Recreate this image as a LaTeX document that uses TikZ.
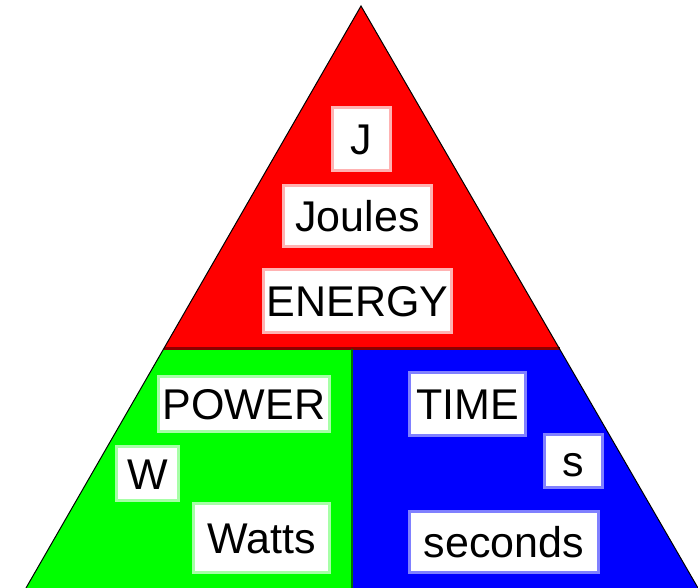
\documentclass[tikz,border=0pt]{standalone}
\usepackage{fontspec}
\setmainfont{Liberation Sans}
\usetikzlibrary{calc}

\begin{document}
\begin{tikzpicture}[
        x=1pt, y=-1pt, % one unit = one pixel of the sketch, y going down
        labelbox/.style={fill=white, line width=3pt, inner sep=0pt,
            font=\fontsize{43}{50}\selectfont, text height=31pt, text depth=0pt}
    ]

        % --- COLOURS ---
        \definecolor{energyred}{RGB}{255, 0, 0}
        \definecolor{powergreen}{RGB}{0, 255, 0}
        \definecolor{timeblue}{RGB}{0, 0, 255}

        \useasboundingbox (0,0) rectangle (698,588);

        % --- CORNERS OF THE TRIANGLE ---
        \coordinate (Apex) at (361,6);
        \coordinate (BaseL) at (26,588);
        \coordinate (BaseR) at (698,588);
        \coordinate (MidL) at ($(Apex)!0.5893!(BaseL)$); % cut at y = 349
        \coordinate (MidR) at ($(Apex)!0.5893!(BaseR)$);
        \coordinate (MidC) at (352,349);
        \coordinate (BaseC) at (352,588);

        % --- THE THREE PARTS ---
        \fill[energyred] (Apex) -- (MidR) -- (MidL) -- cycle;
        \fill[powergreen] (MidL) -- (MidC) -- (BaseC) -- (BaseL) -- cycle;
        \fill[timeblue] (MidC) -- (MidR) -- (BaseR) -- (BaseC) -- cycle;

        % dividing lines and outline
        \draw[color=energyred!55!black, line width=3pt] (MidL) -- (MidR);
        \draw[color=powergreen!45!black, line width=2.5pt] (MidC) -- (BaseC);
        \draw[line width=1pt] (BaseL) -- (Apex) -- (BaseR);

        % --- ENERGY ---
        \node[labelbox, draw=energyred!30!white, minimum width=58, minimum height=63]
            (unitJ) at (361.5,139) {J};
        \node[labelbox, draw=energyred!30!white, minimum width=148, minimum height=61]
            (joules) at (357.5,216) {Joules};
        \node[labelbox, draw=energyred!30!white, minimum width=188, minimum height=63]
            (energy) at (357.5,301) {ENERGY};

        % --- POWER ---
        \node[labelbox, draw=powergreen!35!white, minimum width=171, minimum height=55]
            (power) at (244,404) {POWER};
        \node[labelbox, draw=powergreen!35!white, minimum width=62, minimum height=54]
            (unitW) at (147.5,473.5) {W};
        \node[labelbox, draw=powergreen!35!white, minimum width=136, minimum height=69]
            (watts) at (261.5,538) {Watts};

        % --- TIME ---
        \node[labelbox, draw=timeblue!50!white, minimum width=116, minimum height=63]
            (time) at (467.5,404) {TIME};
        \node[labelbox, draw=timeblue!50!white, minimum width=58, minimum height=53]
            (units) at (573.5,461) {s};
        \node[labelbox, draw=timeblue!50!white, minimum width=189, minimum height=61]
            (seconds) at (504,542) {seconds};

    \end{tikzpicture}
\end{document}
